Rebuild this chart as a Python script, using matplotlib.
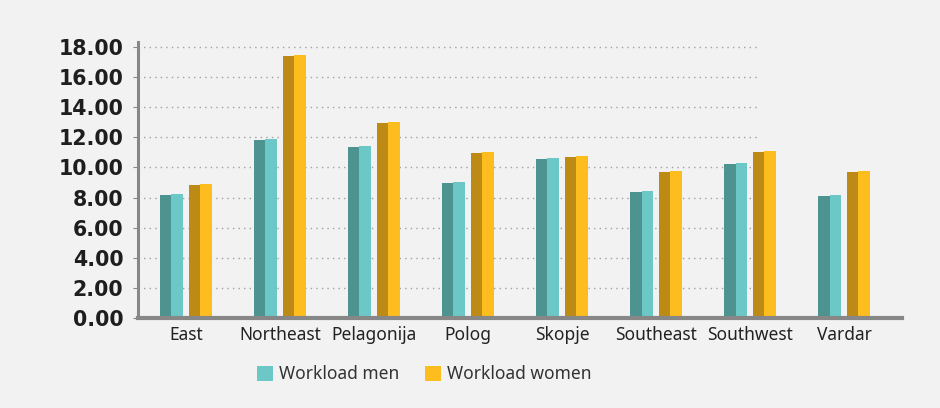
import matplotlib
matplotlib.use("Agg")
import matplotlib.pyplot as plt
from matplotlib.patches import Patch
import numpy as np

categories = ["East", "Northeast", "Pelagonija", "Polog", "Skopje", "Southeast", "Southwest", "Vardar"]
workload_men = [8.23, 11.9, 11.42, 9.03, 10.6, 8.43, 10.3, 8.17]
workload_women = [8.9, 17.46, 13.0, 11.0, 10.75, 9.76, 11.1, 9.76]
yticks = [0, 2, 4, 6, 8, 10, 12, 14, 16, 18]
series_labels = ["Workload men", "Workload women"]

bg = "#f2f2f2"
men_dark, men_light = "#4d9491", "#6cc8c6"
women_dark, women_light = "#bd8a16", "#fdbd1e"
axis_gray = "#878787"

fig = plt.figure(figsize=(9.4, 4.08), dpi=100, facecolor=bg)
ax = fig.add_axes([138/940, 1-318/408, (902-138)/940, (318-42.4)/408])
ax.set_facecolor(bg)

x = np.arange(len(categories))
bw = 0.245
off = 0.154
half = bw / 2

for vals, o, dark, light in [(workload_men, -off, men_dark, men_light),
                             (workload_women, off, women_dark, women_light)]:
    ax.bar(x + o - half/2, np.array(vals) - 0.07, width=half, color=dark, zorder=2, linewidth=0)
    ax.bar(x + o + half/2, vals, width=half, color=light, zorder=2, linewidth=0)

ax.set_xlim(-0.51, 7.617)
ax.set_ylim(0, 18.3)

for yv in yticks[1:]:
    ax.axhline(yv, xmin=0, xmax=0.81, color="#a0a0a0", linewidth=1.0,
               linestyle=(0, (1, 3)), zorder=1)

for s in ["top", "right"]:
    ax.spines[s].set_visible(False)
ax.spines["left"].set_color(axis_gray)
ax.spines["left"].set_linewidth(2.2)
ax.spines["bottom"].set_color(axis_gray)
ax.spines["bottom"].set_linewidth(3)
ax.spines["left"].set_zorder(3)
ax.spines["bottom"].set_zorder(3)

ax.set_yticks(yticks)
ax.set_yticklabels([f"{v:.2f}" for v in yticks], fontsize=14.8, fontweight="bold",
                   color="#1e1e1e", family="DejaVu Sans")
for t in ax.yaxis.get_major_ticks():
    t.tick1line.set_marker("o")
    t.tick1line.set_markersize(4)
    t.tick1line.set_markerfacecolor(axis_gray)
    t.tick1line.set_markeredgecolor(axis_gray)
ax.tick_params(axis="y", pad=7)

ax.set_xticks(x)
ax.set_xticklabels(categories, fontsize=12.5, family="Noto Sans", color="#222222")
ax.tick_params(axis="x", length=0, pad=6)

handles = [Patch(facecolor=men_light, edgecolor="none"), Patch(facecolor=women_light, edgecolor="none")]
fig.legend(handles, series_labels, loc="center", bbox_to_anchor=(424/940, 1-374/408),
           ncol=2, frameon=False, prop={"family": "Noto Sans", "size": 12.5},
           handlelength=0.95, handleheight=0.95, handletextpad=0.3, columnspacing=1.5,
           labelcolor="#333333")

fig.savefig("out.png", dpi=100, facecolor=bg)
